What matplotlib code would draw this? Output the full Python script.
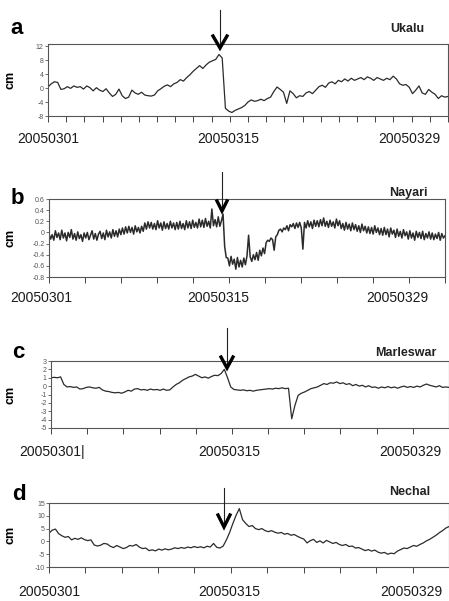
import numpy as np
import matplotlib
matplotlib.use('Agg')
import matplotlib.pyplot as plt
from matplotlib.lines import Line2D
from matplotlib.ticker import MultipleLocator
from matplotlib import transforms

plt.rcParams['font.family'] = ['Liberation Sans', 'DejaVu Sans']

W, H = 449, 601

#%% data (cm), days since 2005-03-01
t_q = np.arange(0, 31.01, 0.25)   # 6-hourly readings
t_e = np.arange(0, 31.01, 0.125)  # 3-hourly readings (Nayari)

ukalu = [0.3, 1.2, 1.8, 1.6, -0.4, -0.2, 0.4, -0.1,
         0.6, 0.2, 0.4, -0.3, 0.6, 0.1, -0.8, 0.1,
         -0.6, -1.0, -0.2, -1.4, -2.4, -1.8, -0.3, -2.2,
         -3.0, -2.6, -0.6, -1.4, -1.8, -1.2, -2.0, -2.2,
         -2.3, -2.0, -0.8, -0.2, 0.5, 0.9, 0.4, 1.2,
         1.6, 2.4, 2.0, 3.0, 3.8, 4.8, 5.6, 6.4,
         5.6, 6.6, 7.4, 7.8, 8.2, 9.6, 8.6, -5.8,
         -6.6, -7.0, -6.4, -6.0, -5.6, -5.0, -4.0, -3.4,
         -3.8, -3.6, -3.2, -3.6, -3.0, -2.6, -1.0, 0.3,
         -0.4, -1.2, -4.4, -0.8, -1.6, -2.8, -2.2, -2.4,
         -1.4, -1.0, -1.6, -0.6, 0.4, 0.8, 0.2, 1.4,
         1.8, 1.2, 2.2, 1.8, 2.6, 2.0, 2.8, 2.2,
         2.6, 3.0, 2.4, 3.2, 2.8, 2.2, 3.0, 2.6,
         2.2, 2.8, 2.4, 3.4, 2.6, 1.2, 0.8, 1.0,
         0.2, -1.6, -0.6, 0.6, -1.4, -1.8, -0.4, -1.2,
         -1.8, -3.0, -2.2, -2.6, -2.4]

nayari = [-0.02, -0.12, -0.04, -0.14, 0.03, -0.09, -0.01, -0.13,
          0.04, -0.10, -0.01, -0.15, 0.00, -0.09, 0.05, -0.12,
          -0.02, -0.14, 0.01, -0.11, -0.04, -0.16, -0.01, -0.10,
          0.00, -0.13, -0.05, 0.03, -0.12, -0.02, -0.14, -0.03,
          0.02, -0.11, -0.01, -0.13, 0.04, -0.08, 0.01, -0.10,
          0.05, -0.07, 0.03, -0.08, 0.06, -0.04, 0.08, -0.03,
          0.10, -0.01, 0.11, 0.00, 0.09, -0.03, 0.12, 0.01,
          0.09, -0.01, 0.11, 0.02, 0.17, 0.06, 0.19, 0.08,
          0.18, 0.06, 0.16, 0.05, 0.21, 0.08, 0.17, 0.04,
          0.19, 0.07, 0.16, 0.06, 0.20, 0.08, 0.17, 0.05,
          0.18, 0.06, 0.20, 0.07, 0.16, 0.05, 0.21, 0.08,
          0.19, 0.07, 0.22, 0.09, 0.18, 0.08, 0.24, 0.10,
          0.22, 0.09, 0.25, 0.11, 0.20, 0.08, 0.42, 0.12,
          0.23, 0.10, 0.28, 0.11, 0.21, 0.33, -0.25, -0.45,
          -0.46, -0.60, -0.43, -0.57, -0.48, -0.66, -0.45, -0.62,
          -0.50, -0.62, -0.46, -0.58, -0.42, -0.05, -0.44, -0.52,
          -0.40, -0.49, -0.36, -0.50, -0.32, -0.42, -0.28, -0.38,
          -0.18, -0.14, -0.16, -0.10, -0.13, -0.32, -0.08, -0.04,
          0.04, 0.06, 0.01, 0.08, 0.05, 0.12, 0.03, 0.14,
          0.10, 0.16, 0.07, 0.17, 0.09, 0.18, 0.08, -0.30,
          0.18, 0.08, 0.21, 0.10, 0.19, 0.07, 0.22, 0.11,
          0.21, 0.10, 0.23, 0.12, 0.26, 0.11, 0.20, 0.09,
          0.22, 0.11, 0.19, 0.08, 0.24, 0.12, 0.21, 0.07,
          0.16, 0.04, 0.18, 0.06, 0.15, 0.03, 0.17, 0.05,
          0.14, 0.02, 0.12, 0.00, 0.15, 0.03, 0.11, -0.01,
          0.10, -0.02, 0.09, -0.03, 0.12, 0.00, 0.08, -0.04,
          0.07, -0.05, 0.09, -0.04, 0.06, -0.08, 0.08, -0.03,
          0.04, -0.09, 0.06, -0.07, 0.02, -0.10, 0.05, -0.06,
          0.01, -0.12, 0.03, -0.10, -0.01, -0.14, 0.02, -0.09,
          0.00, -0.11, 0.02, -0.13, -0.02, -0.10, 0.01, -0.12,
          -0.01, -0.13, -0.03, -0.11, 0.00, -0.14, -0.02, -0.10,
          -0.06]

marleswar = [1.0, 1.05, 1.0, 1.1, 0.2, -0.1, -0.05, -0.15,
             -0.1, -0.35, -0.3, -0.15, -0.1, -0.2, -0.25, -0.15,
             -0.45, -0.6, -0.65, -0.75, -0.8, -0.75, -0.85, -0.7,
             -0.5, -0.6, -0.35, -0.3, -0.45, -0.4, -0.5, -0.35,
             -0.45, -0.4, -0.5, -0.35, -0.5, -0.45, -0.1, 0.2,
             0.4, 0.7, 0.9, 1.1, 1.2, 1.4, 1.2, 1.0,
             1.1, 0.95, 1.15, 1.3, 1.25, 1.5, 2.0, 1.0,
             -0.1, -0.4, -0.45, -0.5, -0.45, -0.55, -0.5, -0.6,
             -0.5, -0.45, -0.4, -0.35, -0.3, -0.35, -0.25, -0.3,
             -0.2, -0.3, -0.25, -3.9, -2.3, -1.1, -0.85, -0.7,
             -0.5, -0.3, -0.2, -0.1, 0.1, 0.3, 0.2, 0.4,
             0.35, 0.5, 0.3, 0.4, 0.2, 0.3, 0.05, 0.2,
             0.0, 0.1, -0.1, 0.05, -0.15, -0.1, -0.25, -0.1,
             -0.2, -0.05, -0.2, -0.1, -0.25, -0.1, 0.0, -0.15,
             -0.05, -0.15, 0.0, -0.1, 0.1, 0.25, 0.1, 0.0,
             -0.1, 0.05, -0.15, -0.1, -0.15]

nechal = [3.2, 4.4, 4.8, 3.0, 2.2, 1.6, 1.9, 0.6,
          1.2, 0.8, 1.4, 0.7, 0.3, 0.6, -1.4, -1.8,
          -1.5, -0.8, -1.0, -1.9, -2.4, -1.6, -2.2, -2.8,
          -2.4, -1.6, -1.8, -1.2, -2.2, -2.8, -2.6, -3.6,
          -3.3, -3.7, -3.0, -3.4, -2.9, -3.3, -3.0, -2.5,
          -2.8, -2.4, -2.7, -2.2, -2.5, -2.0, -2.4, -2.1,
          -2.5, -1.9, -2.2, -0.8, -2.3, -2.6, -1.8, 0.6,
          3.5, 7.0, 10.2, 12.8, 8.5, 7.0, 5.8, 6.2,
          5.0, 4.6, 5.0, 4.2, 3.8, 4.2, 3.6, 3.2,
          3.5, 2.8, 3.1, 2.4, 2.7, 2.0, 1.4, 0.9,
          -0.6, 0.3, 0.8, -0.4, 0.2, -0.6, 0.4, -0.2,
          -0.8, -0.4, -1.2, -1.6, -1.2, -2.0, -1.8, -2.6,
          -2.4, -3.0, -3.6, -3.2, -3.8, -3.4, -4.2, -4.6,
          -4.3, -5.0, -4.6, -4.8, -3.8, -3.2, -2.6, -2.8,
          -2.2, -1.6, -1.9, -1.2, -0.6, 0.2, 0.8, 1.6,
          2.4, 3.4, 4.2, 5.2, 5.8]

date_labels = ['20050301', '20050315', '20050329']

#%% panel layout in pixels: (left, top, right, bottom)
panels = [
    dict(letter='a', name='Ukalu', t=t_q, y=ukalu, box=(48, 44, 448, 116), ylim=(-8, 12.6),
         yticks=[-8, -4, 0, 4, 8, 12], yfmt='%d', tick_step=31 / 22, lw=0.9,
         lab_x=[0, 14, 28], lab_y=139, lab=date_labels,
         letter_xy=(10, 28), name_xy=(424, 29), arrow=(220, 10, 48, 7, 12)),
    dict(letter='b', name='Nayari', t=t_e, y=nayari, box=(49, 199, 445, 277), ylim=(-0.8, 0.6),
         yticks=[-0.8, -0.6, -0.4, -0.2, 0, 0.2, 0.4, 0.6], yfmt='%g', tick_step=31 / 11, lw=1.1,
         lab_x=[-0.6, 13.25, 27.25], lab_y=298, lab=date_labels,
         letter_xy=(11, 199), name_xy=(428, 193), arrow=(222, 172, 211, 5, 10)),
    dict(letter='c', name='Marleswar', t=t_q, y=marleswar, box=(51, 361, 449, 428), ylim=(-5, 3),
         yticks=[-5, -4, -3, -2, -1, 0, 1, 2, 3], yfmt='%d', tick_step=31 / 11, lw=0.9,
         lab_x=[0.1, 13.9, 27.95], lab_y=452, lab=['20050301|', '20050315', '20050329'],
         letter_xy=(12, 353), name_xy=(437, 353), arrow=(227, 328, 368, 6, 11)),
    dict(letter='d', name='Nechal', t=t_q, y=nechal, box=(49, 503, 449, 567), ylim=(-10, 15),
         yticks=[-10, -5, 0, 5, 10, 15], yfmt='%d', tick_step=31 / 11, lw=0.9,
         lab_x=[0, 13.95, 28.1], lab_y=592, lab=date_labels,
         letter_xy=(12, 494), name_xy=(430, 492), arrow=(224, 488, 527, 6, 12)),
]

fig = plt.figure(figsize=(W / 100, H / 100), dpi=100)
fig.patch.set_facecolor('white')


def fx(x):
    return x / W


def fy(y):
    return 1 - y / H


for p in panels:
    l, tp, r, b = p['box']
    ax = fig.add_axes([fx(l), fy(b), (r - l) / W, (b - tp) / H])
    ax.plot(p['t'], p['y'], color='#2b2b2b', lw=p['lw'])
    ax.set_xlim(0, 31)
    ax.set_ylim(*p['ylim'])
    for s in ax.spines.values():
        s.set_color('#555555')
        s.set_linewidth(0.8)
    ax.set_yticks(p['yticks'])
    ax.set_yticklabels([p['yfmt'] % v for v in p['yticks']])
    ax.tick_params(axis='y', direction='out', length=2, width=0.6, colors='#555555',
                   labelsize=5, pad=1)
    ax.set_xticks([])
    ax.xaxis.set_minor_locator(MultipleLocator(p['tick_step']))
    ax.tick_params(axis='x', which='minor', direction='out', length=4, width=0.7, colors='#444444')
    ax.set_ylabel('cm', fontsize=9, fontweight='bold', labelpad=4)
    ax.yaxis.set_label_coords(-(l - 16) / (r - l), 0.5)

    trans = transforms.blended_transform_factory(ax.transData, fig.transFigure)
    for xv, txt in zip(p['lab_x'], p['lab']):
        ax.text(xv, fy(p['lab_y']), txt, transform=trans, ha='center', va='center',
                fontsize=10, color='#1a1a1a', clip_on=False)

    fig.text(fx(p['letter_xy'][0]), fy(p['letter_xy'][1]), p['letter'], fontsize=16,
             fontweight='bold', ha='left', va='center')
    fig.text(fx(p['name_xy'][0]), fy(p['name_xy'][1]), p['name'], fontsize=9,
             fontweight='bold', ha='right', va='center', color='#222222')

    # arrow: thin shaft with a heavy open head
    axx, ytop, ytip, hw, hh = p['arrow']
    fig.add_artist(Line2D([fx(axx), fx(axx)], [fy(ytop), fy(ytip - 2)], color='#222222', lw=0.8))
    fig.add_artist(Line2D([fx(axx - hw), fx(axx), fx(axx + hw)],
                          [fy(ytip - hh), fy(ytip), fy(ytip - hh)],
                          color='black', lw=2.4, solid_joinstyle='miter'))

fig.savefig('out.png', dpi=100, facecolor='white')
